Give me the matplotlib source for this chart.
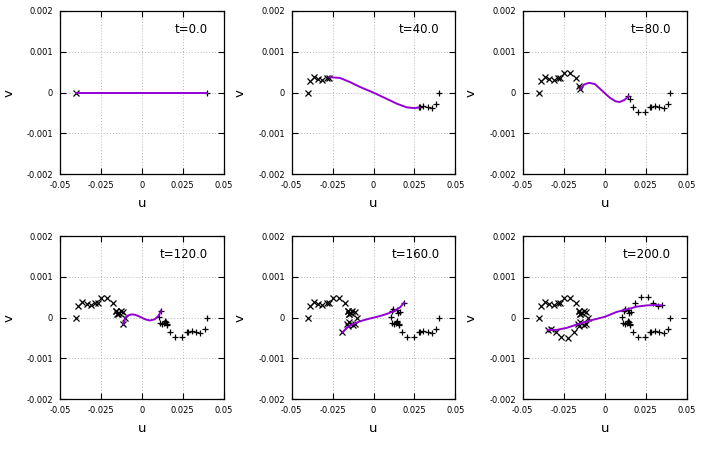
import matplotlib
matplotlib.use("Agg")
import matplotlib.pyplot as plt
import numpy as np


TIMES = [0.0, 40.0, 80.0, 120.0, 160.0, 200.0]

# history of the left end (drawn with x) and right end (drawn with +), in time order
LEFT_U = [-0.0400, -0.0389, -0.0363, -0.0337, -0.0312, -0.0285, -0.0270,
          -0.0248, -0.0210, -0.0177, -0.0157, -0.0148,
          -0.0157, -0.0149, -0.0137, -0.0129, -0.0115, -0.0103, -0.0113,
          -0.0150, -0.0163, -0.0154, -0.0127, -0.0190,
          -0.0225, -0.0267, -0.0298, -0.0325, -0.0348]
LEFT_V = [0.0, 0.00028, 0.00038, 0.00034, 0.00031, 0.00035, 0.00037,
          0.00047, 0.00048, 0.00035, 0.00016, 0.00009,
          0.00017, 0.00009, 0.00011, 0.00017, 0.00014, 0.00000, -0.00016,
          -0.00010, -0.00015, -0.00020, -0.00019, -0.00036,
          -0.00050, -0.00048, -0.00036, -0.00027, -0.00030]
RIGHT_U = [0.0398, 0.0385, 0.0359, 0.0331, 0.0305, 0.0283, 0.0277,
           0.0246, 0.0206, 0.0172, 0.0155, 0.0144,
           0.0155, 0.0146, 0.0136, 0.0126, 0.0112, 0.0104, 0.0115,
           0.0148, 0.0160, 0.0142, 0.0122, 0.0187,
           0.0223, 0.0262, 0.0297, 0.0323, 0.0347]
RIGHT_V = [0.0, -0.00027, -0.00038, -0.00034, -0.00032, -0.00036, -0.00036,
           -0.00048, -0.00048, -0.00035, -0.00016, -0.00009,
           -0.00017, -0.00010, -0.00012, -0.00016, -0.00014, 0.00001, 0.00017,
           0.00011, 0.00014, 0.00019, 0.00020, 0.00037,
           0.00051, 0.00050, 0.00037, 0.00029, 0.00030]
TRAIL_COUNT = [1, 7, 12, 19, 24, 29]

# string shape at each time
CURVE_U = [
    [-0.0400, 0.0400],
    [-0.0268, -0.0205, -0.0144, -0.0083, 0.0, 0.0080, 0.0142, 0.0203, 0.0254, 0.0280],
    [-0.0150, -0.0125, -0.0095, -0.0060, -0.0030, 0.0, 0.0030, 0.0065, 0.0090, 0.0120, 0.0145],
    [-0.0113, -0.0098, -0.0080, -0.0062, -0.0040, -0.0010, 0.0020, 0.0050, 0.0080, 0.0101, 0.0110, 0.0116],
    [-0.0190, -0.0164, -0.0133, -0.0083, -0.0040, 0.0, 0.0040, 0.0080, 0.0131, 0.0162, 0.0187],
    [-0.0348, -0.0293, -0.0232, -0.0171, -0.0089, 0.0, 0.0073, 0.0134, 0.0195, 0.0256, 0.0307, 0.0347],
]
CURVE_V = [
    [0.0, 0.0],
    [0.00038, 0.00036, 0.00026, 0.00014, 0.0, -0.00015, -0.00027, -0.00036, -0.00038, -0.00036],
    [0.00009, 0.00020, 0.00024, 0.00021, 0.00010, -0.00001, -0.00012, -0.00021, -0.00023, -0.00018, -0.00009],
    [-0.00016, 0.00001, 0.00006, 0.00008, 0.00007, 0.00002, -0.00004, -0.00007, -0.00004, 0.00004, 0.00010, 0.00017],
    [-0.00036, -0.00025, -0.00017, -0.00009, -0.00004, 0.0, 0.00004, 0.00009, 0.00017, 0.00025, 0.00037],
    [-0.00030, -0.00030, -0.00025, -0.00017, -0.00007, 0.00002, 0.00014, 0.00020, 0.00027, 0.00030, 0.00031, 0.00030],
]

X_TICKS = [-0.05, -0.025, 0, 0.025, 0.05]
X_TICKLABELS = ["-0.05", "-0.025", "0", "0.025", "0.05"]
Y_TICKS = [-0.002, -0.001, 0, 0.001, 0.002]
Y_TICKLABELS = ["-0.002", "-0.001", "0", "0.001", "0.002"]

LINE_COLOR = "#9400d3"

fig = plt.figure(figsize=(7.03, 4.68), dpi=100)
W, H = 703.0, 468.0
col_px = [(60.0, 223.5), (291.7, 455.3), (522.7, 686.7)]
row_px = [(11.0, 174.3), (236.0, 399.3)]

for i, t in enumerate(TIMES):
    r, c = divmod(i, 3)
    x0, x1 = col_px[c]
    y0, y1 = row_px[r]
    ax = fig.add_axes([x0 / W, 1 - y1 / H, (x1 - x0) / W, (y1 - y0) / H])

    n = TRAIL_COUNT[i]
    ax.plot(LEFT_U[:n], LEFT_V[:n], linestyle="none", marker="x", color="black",
            markersize=4.2, markeredgewidth=0.9, zorder=3)
    ax.plot(RIGHT_U[:n], RIGHT_V[:n], linestyle="none", marker="+", color="black",
            markersize=5.0, markeredgewidth=0.9, zorder=3)
    ax.plot(CURVE_U[i], CURVE_V[i], color=LINE_COLOR, linewidth=1.4, zorder=4)

    ax.set_xlim(-0.05, 0.05)
    ax.set_ylim(-0.002, 0.002)
    ax.set_xticks(X_TICKS)
    ax.set_xticklabels(X_TICKLABELS)
    ax.set_yticks(Y_TICKS)
    ax.set_yticklabels(Y_TICKLABELS)
    ax.tick_params(direction="in", length=4, width=0.8, labelsize=6,
                   top=True, right=True, pad=5)
    ax.grid(True, linestyle=(0, (1, 2)), color="#b8b8b8", linewidth=0.7)
    for s in ax.spines.values():
        s.set_linewidth(0.9)
    ax.set_xlabel("u", fontsize=9.5, labelpad=5)
    ax.set_ylabel("v", fontsize=9.5, labelpad=8)
    ax.text(0.905, 0.885, f"t={t:.1f}", transform=ax.transAxes,
            ha="right", va="center", fontsize=8.5)

fig.savefig("out.png", dpi=100)
plt.close(fig)
